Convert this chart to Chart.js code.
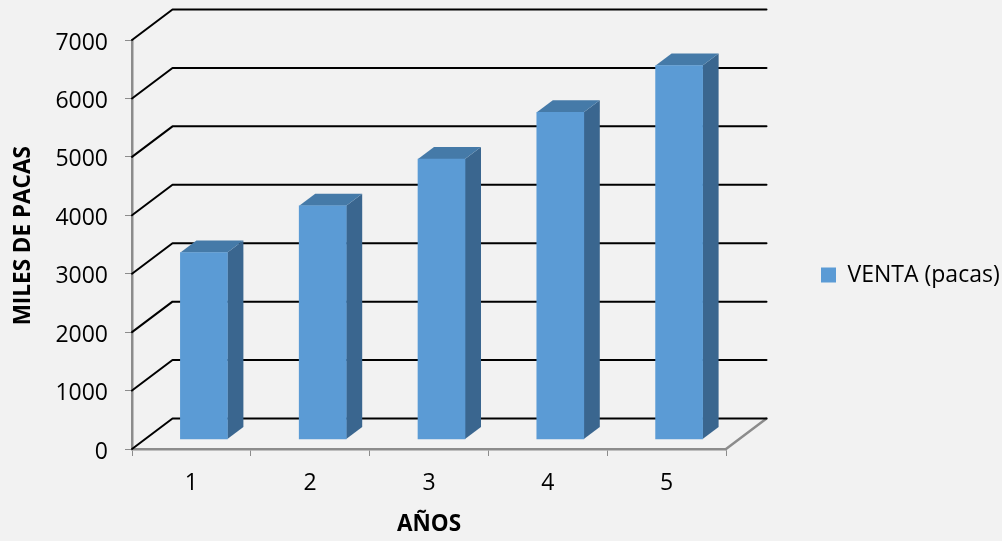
<!DOCTYPE html>
<html>
<head>
<meta charset="utf-8">
<title>Venta de pacas</title>
<script src="https://cdn.jsdelivr.net/npm/chart.js@4/dist/chart.umd.min.js"></script>
<style>
  html, body { margin:0; padding:0; background:#f2f2f2; }
  #wrap { width:1002px; height:541px; }
</style>
</head>
<body>
<div id="wrap"><canvas id="ventaChart" width="1002" height="541"></canvas></div>
<script>
const years = ['1','2','3','4','5'];
const sales = [3200,4000,4800,5600,6400];
const yMax = 7000;
const yStep = 1000;

const FRONT = '#5b9bd5', SIDE = '#3a668f', TOP = '#457aa8';
const AXIS = '#8c8c8c';
const FONT = '"Open Sans", sans-serif';

// wall depth and bar depth of the fake 3d box
const wall = {dx:40.5, dy:-30.5};
const barDepth = {dx:16, dy:-12};
const barShift = {x:12.5, y:-9.5};

function poly(ctx, pts, fill){
  ctx.beginPath();
  pts.forEach((p,i)=> i ? ctx.lineTo(p[0],p[1]) : ctx.moveTo(p[0],p[1]));
  ctx.closePath();
  ctx.fillStyle = fill;
  ctx.fill();
}

const box3d = {
  id:'box3d',
  // legend sits off to the right, outside the plot
  afterLayout(chart){
    const l = chart.legend;
    const w = l.width, h = l.height;
    l.left = 811; l.right = l.left + w;
    l.top = 275 - h/2; l.bottom = l.top + h;
  },
  beforeDatasetsDraw(chart){
    const {ctx, scales:{x,y}} = chart;
    const left = x.left, right = x.right;
    ctx.save();
    ctx.lineCap = 'round';
    ctx.lineJoin = 'round';

    // floor edges
    const y0 = y.getPixelForValue(0);
    ctx.strokeStyle = AXIS;
    ctx.lineWidth = 2.5;
    ctx.beginPath();
    ctx.moveTo(right, y0);
    ctx.lineTo(right+wall.dx, y0+wall.dy);
    ctx.stroke();

    // grid runs up the side wall and across the back wall
    ctx.strokeStyle = '#000';
    ctx.lineWidth = 2;
    for (let v = 0; v <= yMax; v += yStep){
      const py = y.getPixelForValue(v);
      ctx.beginPath();
      ctx.moveTo(left, py);
      ctx.lineTo(left+wall.dx, py+wall.dy);
      ctx.lineTo(right+wall.dx, py+wall.dy);
      ctx.stroke();
    }
    ctx.restore();

    // the bars themselves are drawn by Chart.js inside this translate
    ctx.save();
    ctx.translate(barShift.x, barShift.y);
    chart.getDatasetMeta(0).data.forEach(bar=>{
      const l = bar.x - bar.width/2, r = bar.x + bar.width/2;
      const d = barDepth;
      poly(ctx, [[r,bar.y],[r+d.dx,bar.y+d.dy],[r+d.dx,bar.base+d.dy],[r,bar.base]], SIDE);
      poly(ctx, [[l,bar.y],[l+d.dx,bar.y+d.dy],[r+d.dx,bar.y+d.dy],[r,bar.y]], TOP);
    });
  },
  afterDatasetsDraw(chart){
    chart.ctx.restore();
  }
};

new Chart(document.getElementById('ventaChart').getContext('2d'),{
  type:'bar',
  data:{labels:years, datasets:[
    {label:'VENTA (pacas)', data:sales, backgroundColor:FRONT, barThickness:47, clip:false}
  ]},
  options:{
    responsive:false,
    animation:false,
    layout:{padding:{left:10, right:276, top:40, bottom:3}},
    plugins:{
      legend:{
        position:'chartArea',
        labels:{boxWidth:15, boxHeight:15, padding:10, color:'#000', font:{family:FONT, size:23}}
      },
      tooltip:{enabled:false}
    },
    scales:{
      x:{
        afterFit(scale){ scale.height = 89; },
        grid:{drawOnChartArea:false, color:AXIS, lineWidth:1, tickLength:7},
        border:{color:AXIS, width:2.5},
        ticks:{color:'#000', font:{family:FONT, size:23}, padding:14, maxRotation:0},
        title:{display:true, text:'AÑOS', color:'#000', font:{family:FONT, size:22.5, weight:'bold'}, padding:{top:14,bottom:0}}
      },
      y:{
        min:0, max:yMax,
        afterFit(scale){ scale.width = 122; },
        grid:{drawOnChartArea:false, color:AXIS, lineWidth:1, tickLength:7},
        border:{color:AXIS, width:2.5},
        ticks:{stepSize:yStep, color:'#000', font:{family:FONT, size:23}, padding:17, labelOffset:3, callback:v=>String(v)},
        // leading spaces lift the centred title a little above the axis middle
        title:{display:true, text:'   MILES DE PACAS', color:'#000', font:{family:FONT, size:22.5, weight:'bold'}, padding:{top:0,bottom:0}}
      }
    }
  },
  plugins:[box3d]
});
</script>
</body>
</html>
